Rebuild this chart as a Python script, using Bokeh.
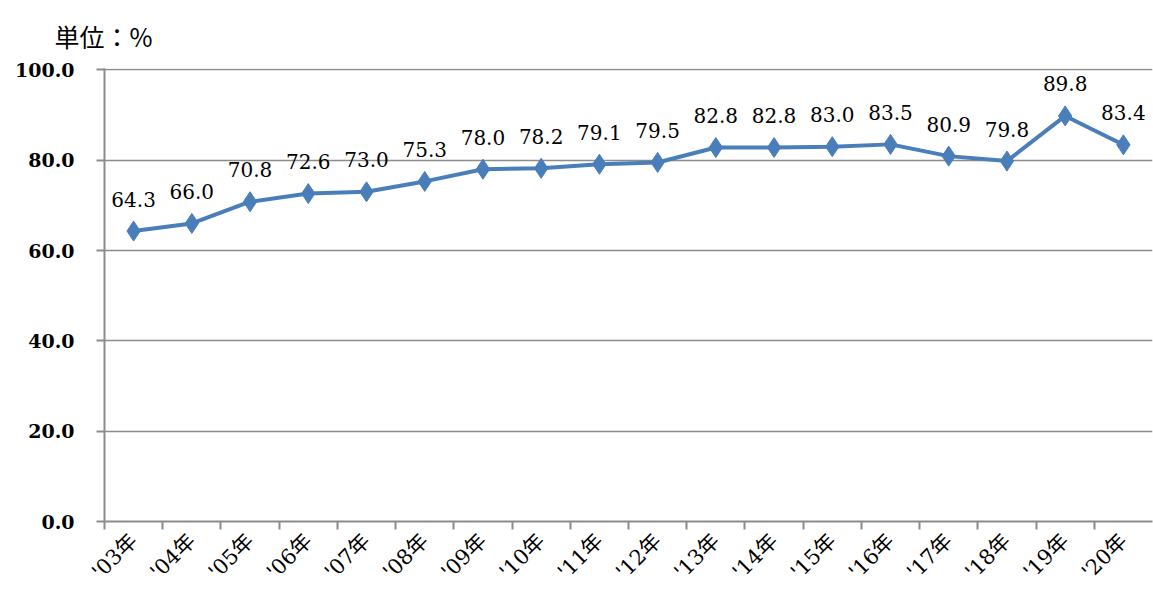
from bokeh.plotting import figure
from bokeh.models import ColumnDataSource, LabelSet, FixedTicker, PrintfTickFormatter, Range1d, Title
from bokeh.core.properties import value
from bokeh.embed import file_html
from bokeh.resources import INLINE
import math

years = ["'03年", "'04年", "'05年", "'06年", "'07年", "'08年", "'09年", "'10年", "'11年",
         "'12年", "'13年", "'14年", "'15年", "'16年", "'17年", "'18年", "'19年", "'20年"]
values = [64.3, 66.0, 70.8, 72.6, 73.0, 75.3, 78.0, 78.2, 79.1,
          79.5, 82.8, 82.8, 83.0, 83.5, 80.9, 79.8, 89.8, 83.4]
y_ticks = [0, 20, 40, 60, 80, 100]
unit_label = "単位：%"

n = len(years)
xs = [i + 0.5 for i in range(n)]
src = ColumnDataSource(dict(x=xs, y=values, lab=["%.1f" % v for v in values]))

BLUE = "#4A7EBB"
GRAY = "#8C8C8C"

p = figure(width=1153, height=595, output_backend="svg", toolbar_location=None,
           x_range=Range1d(0, n), y_range=Range1d(0, 100.3),
           min_border_left=104, min_border_right=1, min_border_top=65, min_border_bottom=73)
p.outline_line_color = None
p.background_fill_color = "white"
p.border_fill_color = "white"

p.line("x", "y", source=src, line_color=BLUE, line_width=4)
p.scatter("x", "y", source=src, marker="diamond", size=20, fill_color=BLUE, line_color=BLUE)

labels = LabelSet(x="x", y="y", text="lab", source=src, y_offset=32,
                  text_align="center", text_baseline="middle",
                  text_font=value("DejaVu Serif"), text_font_size=value("20px"), text_color="black")
p.add_layout(labels)

# y axis
p.yaxis.ticker = FixedTicker(ticks=y_ticks)
p.yaxis.formatter = PrintfTickFormatter(format="%.1f")
p.yaxis.axis_line_color = GRAY
p.yaxis.axis_line_width = 2
p.yaxis.major_tick_line_color = GRAY
p.yaxis.major_tick_line_width = 2
p.yaxis.major_tick_out = 8
p.yaxis.major_tick_in = 0
p.yaxis.minor_tick_line_color = None
p.yaxis.major_label_text_font = "DejaVu Serif"
p.yaxis.major_label_text_font_style = "bold"
p.yaxis.major_label_text_font_size = "19px"
p.yaxis.major_label_text_color = "black"
p.yaxis.major_label_standoff = 22

p.ygrid.ticker = FixedTicker(ticks=y_ticks)
p.ygrid.grid_line_color = GRAY
p.ygrid.grid_line_width = 1.5
p.xgrid.grid_line_color = None

# x axis
p.xaxis.ticker = FixedTicker(ticks=xs, minor_ticks=list(range(n)))
p.xaxis.major_label_overrides = {x: lab for x, lab in zip(xs, years)}
p.xaxis.axis_line_color = GRAY
p.xaxis.axis_line_width = 2
p.xaxis.major_tick_line_color = None
p.xaxis.major_tick_out = 0
p.xaxis.major_tick_in = 0
p.xaxis.minor_tick_line_color = GRAY
p.xaxis.minor_tick_line_width = 2
p.xaxis.minor_tick_out = 8
p.xaxis.minor_tick_in = 0
p.xaxis.major_label_orientation = math.pi / 4
p.xaxis.major_label_text_font = "DejaVu Serif, Noto Sans CJK JP"
p.xaxis.major_label_text_font_size = "21px"
p.xaxis.major_label_text_color = "black"
p.xaxis.major_label_standoff = 8

p.title = Title(text=unit_label, align="left", offset=-50, standoff=30,
                text_font="Noto Sans CJK JP", text_font_size="25px",
                text_font_style="normal", text_color="black")

open("out.html", "w").write(file_html(p, INLINE))
